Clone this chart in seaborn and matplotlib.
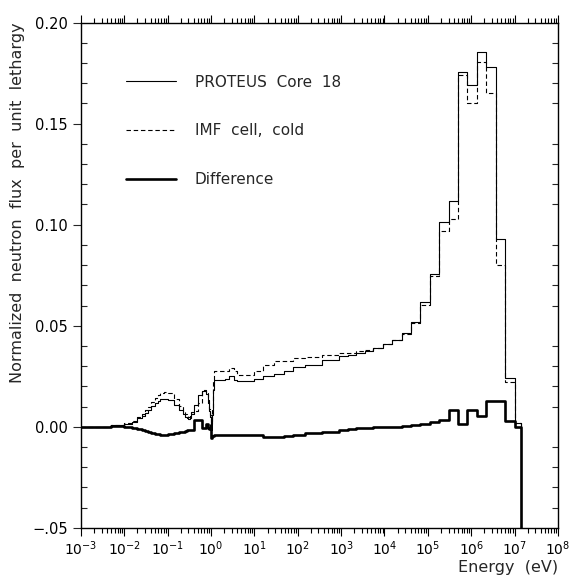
import numpy as np
import pandas as pd
import matplotlib
matplotlib.use("Agg")
import matplotlib.pyplot as plt
import matplotlib.ticker as mticker
import seaborn as sns

# Group boundaries (eV), lower edge of each group, plus the top edge
energy_edges = [1e-3, 5e-3, 0.01, 0.015, 0.02, 0.025, 0.03, 0.035, 0.042, 0.05,
                0.058, 0.067, 0.08, 0.1, 0.14, 0.18, 0.22, 0.25, 0.28, 0.30,
                0.32, 0.35, 0.4, 0.5, 0.625, 0.78, 0.85, 0.91, 0.95, 0.972,
                0.996, 1.02, 1.045, 1.071, 1.097, 1.123, 1.15, 1.3, 1.5, 2.1,
                2.6, 3.3, 4.0, 9.877, 15.97, 27.7, 48.05, 75.5, 148.7, 367.3,
                906.9, 1425.0, 2239.0, 3519.0, 5530.0, 9118.0, 1.503e4, 2.479e4, 4.087e4, 6.738e4,
                1.11e5, 1.83e5, 3.025e5, 5.0e5, 8.21e5, 1.353e6, 2.231e6, 3.679e6, 6.0655e6, 1.0e7,
                1.4e7]

# flux per unit lethargy in each group; last entry = value past the top edge
proteus = [0.0, 0.0008, 0.0015, 0.0026, 0.0042, 0.0055, 0.0070, 0.0085, 0.0102, 0.0117,
           0.0128, 0.0135, 0.0137, 0.0132, 0.0110, 0.0085, 0.0065, 0.0050, 0.0042, 0.0038,
           0.0045, 0.0065, 0.0110, 0.0155, 0.0175, 0.0160, 0.0120, 0.0080, 0.0050, 0.0030,
           0.0015, 0.0012, 0.0015, 0.0060, 0.0120, 0.0180, 0.0233, 0.0233, 0.0233, 0.0235,
           0.0250, 0.0233, 0.0224, 0.0236, 0.0249, 0.0262, 0.0274, 0.0295, 0.0305, 0.0330,
           0.0348, 0.0355, 0.0365, 0.0373, 0.0390, 0.0410, 0.0430, 0.0465, 0.0520, 0.0616,
           0.0757, 0.1015, 0.1115, 0.1756, 0.1690, 0.1855, 0.1780, 0.0930, 0.0243, 0.0020,
           0.0]
imf_cell = [0.0, 0.0008, 0.0017, 0.0030, 0.0050, 0.0065, 0.0082, 0.0100, 0.0122, 0.0142,
            0.0157, 0.0167, 0.0170, 0.0165, 0.0135, 0.0105, 0.0080, 0.0063, 0.0053, 0.0050,
            0.0055, 0.0075, 0.0080, 0.0120, 0.0180, 0.0165, 0.0130, 0.0090, 0.0060, 0.0040,
            0.0025, 0.0020, 0.0030, 0.0090, 0.0170, 0.0230, 0.0274, 0.0274, 0.0274, 0.0276,
            0.0290, 0.0274, 0.0257, 0.0274, 0.0307, 0.0323, 0.0323, 0.0340, 0.0345, 0.0355,
            0.0363, 0.0365, 0.0373, 0.0381, 0.0392, 0.0408, 0.0428, 0.0460, 0.0512, 0.0604,
            0.0744, 0.0970, 0.1028, 0.1740, 0.1600, 0.1806, 0.1650, 0.0800, 0.0220, 0.0020,
            0.0]
difference = [0.0, 0.0003, -0.0003, -0.0008, -0.0012, -0.0016, -0.0020, -0.0025, -0.0030, -0.0035,
              -0.0038, -0.0040, -0.0040, -0.0038, -0.0033, -0.0028, -0.0024, -0.0020, -0.0018, -0.0017,
              -0.0016, -0.0015, 0.0035, 0.0035, -0.0005, 0.0015, -0.0005, -0.0010, -0.0010, 0.0010,
              -0.0045, -0.0055, -0.0050, -0.0045, -0.0045, -0.0045, -0.0043, -0.0043, -0.0043, -0.0043,
              -0.0043, -0.0043, -0.0043, -0.0040, -0.0050, -0.0050, -0.0045, -0.0040, -0.0030, -0.0025,
              -0.0015, -0.0010, -0.0008, -0.0005, -0.0002, 0.0, 0.0, 0.0005, 0.0008, 0.0016,
              0.0025, 0.0035, 0.0084, 0.0015, 0.0084, 0.0054, 0.0129, 0.0129, 0.0030, 0.0,
              -0.06]

y_ticks = [-0.05, 0.0, 0.05, 0.10, 0.15, 0.20]
y_tick_labels = ["\u2212.05", "0.00", "0.05", "0.10", "0.15", "0.20"]

sns.set_style("ticks")
plt.rcParams["font.family"] = ["DejaVu Sans"]
plt.rcParams["mathtext.fontset"] = "dejavusans"

df = pd.DataFrame({"energy": energy_edges, "proteus": proteus,
                   "imf": imf_cell, "diff": difference})

fig = plt.figure(figsize=(5.71, 5.80), dpi=100)
ax = fig.add_axes([0.142, 0.090, 0.835, 0.871])

sns.lineplot(data=df, x="energy", y="proteus", ax=ax, color="black", lw=0.8,
             drawstyle="steps-post", label="PROTEUS  Core  18")
sns.lineplot(data=df, x="energy", y="imf", ax=ax, color="black", lw=0.8,
             linestyle=(0, (4, 2.5)), drawstyle="steps-post", label="IMF  cell,  cold")
sns.lineplot(data=df, x="energy", y="diff", ax=ax, color="black", lw=1.9,
             drawstyle="steps-post", label="Difference")

ax.set_xscale("log")
ax.set_xlim(1e-3, 1e8)
ax.set_ylim(-0.05, 0.20)

ax.xaxis.set_major_locator(mticker.LogLocator(base=10, numticks=15))
ax.xaxis.set_minor_locator(mticker.LogLocator(base=10, subs=np.arange(2, 10), numticks=15))
ax.yaxis.set_major_locator(mticker.FixedLocator(y_ticks))
ax.yaxis.set_major_formatter(mticker.FixedFormatter(y_tick_labels))
ax.yaxis.set_minor_locator(mticker.MultipleLocator(0.01))

ax.tick_params(axis="x", which="both", direction="out", top=True, bottom=True,
               labelsize=10, width=0.8, color="black", labelcolor="black")
ax.tick_params(axis="x", which="major", length=6, pad=2)
ax.tick_params(axis="x", which="minor", length=3.5)
ax.tick_params(axis="y", which="major", direction="out", length=6, width=0.8,
               labelsize=10.5, left=True, right=False, labelcolor="black")
ax.tick_params(axis="y", which="minor", direction="in", length=4, width=0.8,
               left=True, right=True)

for s in ax.spines.values():
    s.set_linewidth(1.0)
    s.set_color("black")

ax.set_xlabel("Energy  (eV)", fontsize=11.5, loc="right")
ax.xaxis.set_label_coords(1.0, -0.064)
ax.set_ylabel("Normalized  neutron  flux  per  unit  lethargy", fontsize=11.5, loc="top")
ax.yaxis.set_label_coords(-0.118, 1.0)

ax.legend(loc="upper left", bbox_to_anchor=(0.094, 0.897), frameon=False,
          fontsize=11, handlelength=3.3, handletextpad=1.2, labelspacing=2.2,
          borderpad=0, borderaxespad=0)

fig.savefig("out.png", dpi=100)
